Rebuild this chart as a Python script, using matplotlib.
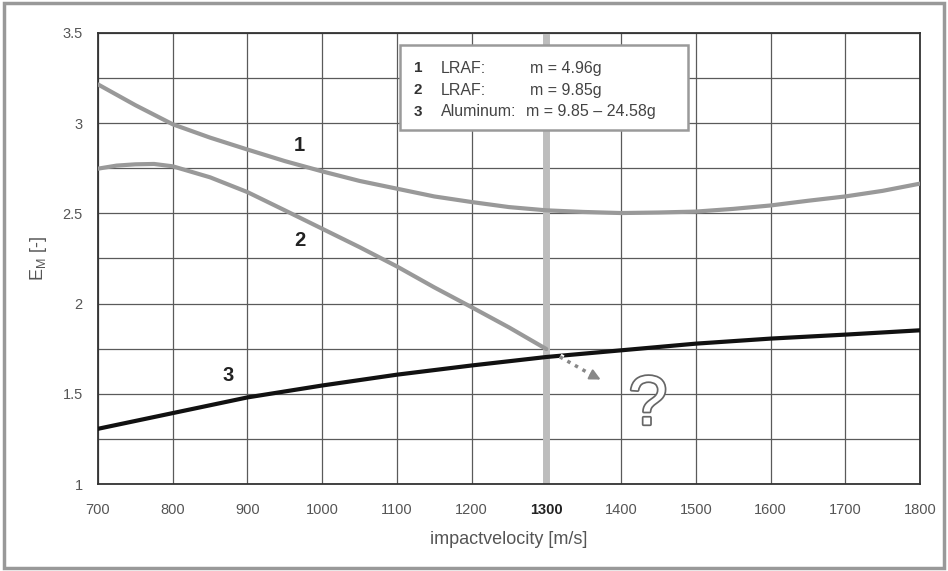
import numpy as np
import matplotlib
matplotlib.use("Agg")
import matplotlib.pyplot as plt
from matplotlib.patches import Rectangle
import matplotlib.patheffects as pe

plt.rcParams['font.family'] = ['Liberation Sans', 'DejaVu Sans']

# values
v1 = [700, 750, 800, 850, 900, 950, 1000, 1050, 1100, 1150, 1200, 1250, 1300,
      1350, 1400, 1450, 1500, 1550, 1600, 1650, 1700, 1750, 1800]
em_lraf_496 = [3.215, 3.10, 2.994, 2.92, 2.854, 2.79, 2.733, 2.68, 2.637, 2.594, 2.563, 2.535, 2.517,
               2.508, 2.502, 2.505, 2.51, 2.525, 2.544, 2.57, 2.594, 2.625, 2.665]
v2 = [700, 725, 750, 775, 800, 850, 900, 950, 1000, 1050, 1100, 1150, 1200, 1250, 1300]
em_lraf_985 = [2.748, 2.765, 2.772, 2.774, 2.761, 2.70, 2.618, 2.517, 2.415, 2.313, 2.206, 2.09,
               1.98, 1.868, 1.748]
v3 = [700, 800, 900, 1000, 1100, 1200, 1300, 1400, 1500, 1600, 1700, 1800]
em_alu = [1.306, 1.393, 1.48, 1.546, 1.606, 1.657, 1.704, 1.741, 1.778, 1.806, 1.828, 1.852]

leg_num = ['1', '2', '3']
leg_mat = ['LRAF:', 'LRAF:', 'Aluminum:']
leg_mass = ['m = 4.96g', 'm = 9.85g', 'm = 9.85 \u2013 24.58g']

W, H = 948, 571
fig = plt.figure(figsize=(W / 100, H / 100), dpi=100)
fig.patches.append(Rectangle((4 / W, 3 / H), 940 / W, 565 / H, transform=fig.transFigure,
                             fill=False, edgecolor='#999999', linewidth=2.5))
ax = fig.add_axes([98 / W, 87 / H, 822 / W, 451 / H])

gray = '#999999'
ax.axvline(1300, color='#bdbdbd', lw=5, zorder=1)
ax.plot(v1, em_lraf_496, color=gray, lw=3, solid_capstyle='round', zorder=3)
ax.plot(v2, em_lraf_985, color=gray, lw=3, solid_capstyle='round', zorder=3)
ax.plot(v3, em_alu, color='#111111', lw=3, zorder=4)

# dotted arrow continuing curve 2
ax.plot([1318, 1362], [1.705, 1.602], color='#888888', lw=2.5, ls=(0, (1, 1.5)), zorder=5,
        path_effects=[pe.withStroke(linewidth=5, foreground='white')])
ax.annotate('', xy=(1376, 1.572), xytext=(1358, 1.61),
            arrowprops=dict(arrowstyle='-|>', color='#888888', lw=1.5, mutation_scale=16),
            zorder=5)
ax.text(1436, 1.43, '?', fontsize=50, ha='center', va='center', color='white', zorder=6,
        path_effects=[pe.withStroke(linewidth=2.5, foreground='#666666')])

for t, x, y in [('1', 970, 2.878), ('2', 970, 2.35), ('3', 874, 1.60)]:
    ax.text(x, y, t, fontsize=14.5, fontweight='bold', color='#222222', ha='center', va='center')

# legend box (figure pixel positions)
fig.patches.append(Rectangle((400 / W, 1 - 130 / H), 288 / W, 85 / H, transform=fig.transFigure,
                             facecolor='white', edgecolor='#9a9a9a', linewidth=1.8, zorder=5))
for i in range(3):
    y = 1 - (68.5 + 21.7 * i) / H
    fig.text(414 / W, y, leg_num[i], fontsize=11, fontweight='bold', color='#333333', va='center', zorder=6)
    fig.text(441 / W, y, leg_mat[i], fontsize=11.5, color='#444444', va='center', zorder=6)
    fig.text((530 if i < 2 else 526) / W, y, leg_mass[i], fontsize=11.5, color='#444444',
             va='center', zorder=6)

ax.set_xlim(700, 1800)
ax.set_ylim(1, 3.5)
ax.set_xticks(v3)
ax.set_yticks([1, 1.5, 2, 2.5, 3, 3.5])
ax.set_yticklabels(['1', '1.5', '2', '2.5', '3', '3.5'])
ax.set_yticks(np.arange(1, 3.51, 0.25), minor=True)
ax.grid(True, which='both', color='#5a5a5a', lw=0.9)
ax.set_axisbelow(True)
ax.tick_params(which='both', length=0, labelsize=10.5, labelcolor='#555555')
ax.tick_params(axis='x', pad=14)
ax.tick_params(axis='y', pad=11)
for lab in ax.get_xticklabels():
    if lab.get_text() == '1300':
        lab.set_fontweight('bold')
        lab.set_color('#222222')
for s in ax.spines.values():
    s.set_color('#333333')
    s.set_linewidth(1.3)

ax.set_xlabel('impactvelocity [m/s]', fontsize=13, color='#555555', labelpad=10)
ax.set_ylabel('E$_\\mathregular{M}$ [-]', fontsize=13, color='#555555', labelpad=10)

fig.savefig('out.png', dpi=100)
